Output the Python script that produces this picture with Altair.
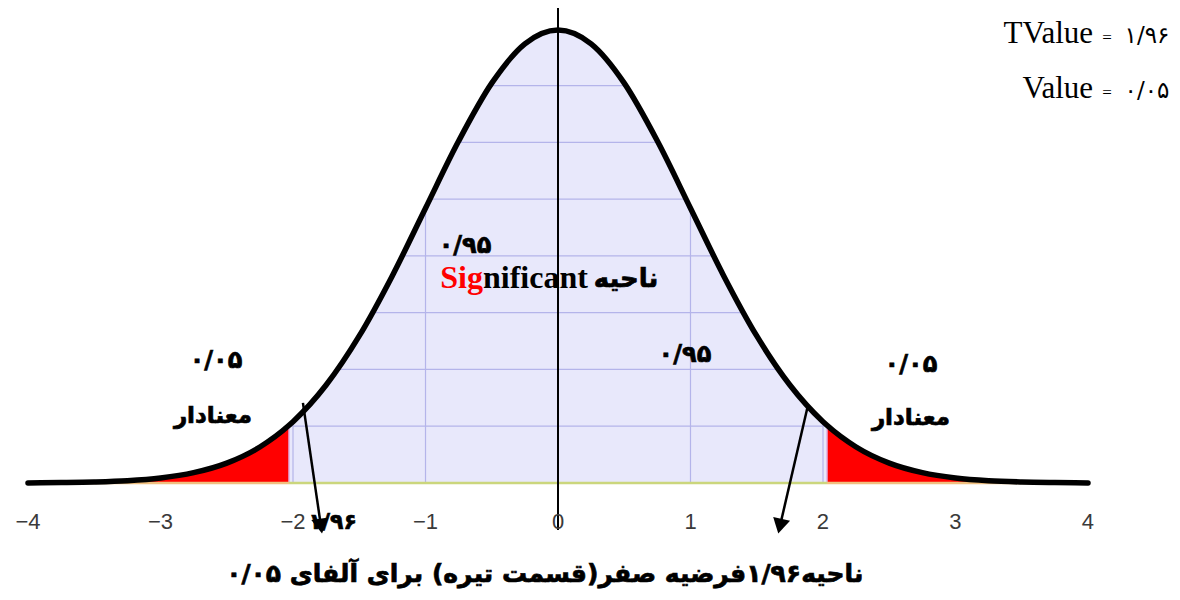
import altair as alt
import pandas as pd

# ---- data ----
curve_x = [-4, -3.75, -3.5, -3.25, -3, -2.75, -2.5, -2.25, -2.03, -2, -1.75, -1.5, -1.25, -1,
           -0.75, -0.5, -0.25, 0, 0.25, 0.5, 0.75, 1, 1.25, 1.5, 1.75, 2, 2.03, 2.25, 2.5,
           2.75, 3, 3.25, 3.5, 3.75, 4]
curve_y = [0.0001, 0.0004, 0.0009, 0.0020, 0.0044, 0.0091, 0.0175, 0.0317, 0.0508, 0.0540,
           0.0863, 0.1295, 0.1826, 0.2420, 0.3011, 0.3521, 0.3867, 0.3989, 0.3867, 0.3521,
           0.3011, 0.2420, 0.1826, 0.1295, 0.0863, 0.0540, 0.0508, 0.0317, 0.0175, 0.0091,
           0.0044, 0.0020, 0.0009, 0.0004, 0.0001]
crit = 2.03

tick_values = [-4, -3, -2, -1, 0, 1, 2, 3, 4]
tick_labels = ["−4", "−3", "−2", "−1", "0", "1", "2", "3", "4"]
tick_y = -0.0343

hgrid_y = [0.05, 0.10, 0.15, 0.20, 0.25, 0.30, 0.35]
hgrid_half = [2.03, 1.66, 1.40, 1.175, 0.967, 0.755, 0.511]
vgrid_x = [-2, -1, 1, 2]
vgrid_top = [0.054, 0.242, 0.242, 0.054]

arrow_x1 = [-1.925, 1.887]
arrow_y1 = [0.0705, 0.0687]
arrow_x2 = [-1.789, 1.675]
arrow_y2 = [-0.0380, -0.0380]
arrow_angle = [352, 13]

persian_labels = ["۰/۰۵", "معنادار", "۰/۰۵", "معنادار", "۰/۹۵", "۰/۹۵", "ناحیه", "۱/۹۶",
                  "ناحیه۱/۹۶فرضیه صفر(قسمت تیره) برای آلفای ۰/۰۵"]
persian_x = [-2.581, -2.604, 2.664, 2.664, -0.702, 0.958, 0.513, -1.70, -0.10]
persian_y = [0.1074, 0.0590, 0.1039, 0.0572, 0.2087, 0.1127, 0.1797, -0.0343, -0.0800]
persian_size = [24, 23, 24, 23, 24, 24, 26, 22, 25]

corner_left = ["TValue", "Value"]
corner_right = ["۱/۹۶", "۰/۰۵"]
corner_y = [0.3875, 0.3391]

# ---- scales ----
W, H = 1164, 475
xs = alt.Scale(domain=[-4.151, 4.634], nice=False, zero=False)
ys = alt.Scale(domain=[0, 0.4183], nice=False, zero=False)

curve = pd.DataFrame({"x": curve_x, "y": curve_y})
mid = curve[(curve.x >= -crit) & (curve.x <= crit)]
left = curve[curve.x <= -crit]
right = curve[curve.x >= crit]


def X(f="x"):
    return alt.X(f"{f}:Q", scale=xs, axis=None)


def Y(f="y"):
    return alt.Y(f"{f}:Q", scale=ys, axis=None)


area_mid = alt.Chart(mid).mark_area(color="#e8e8fb", interpolate="monotone").encode(x=X(), y=Y())
area_l = alt.Chart(left).mark_area(color="#ff0000", interpolate="monotone").encode(x=X(), y=Y())
area_r = alt.Chart(right).mark_area(color="#ff0000", interpolate="monotone").encode(x=X(), y=Y())

hg = pd.DataFrame({"y": hgrid_y, "h": hgrid_half})
hg["x1"] = -hg["h"]
hgrid = alt.Chart(hg).mark_rule(color="#b4b4ea", strokeWidth=1.2).encode(
    x=X("x1"), x2="h:Q", y=Y())

vg = pd.DataFrame({"x": vgrid_x, "top": vgrid_top, "b": [0] * len(vgrid_x)})
vgrid = alt.Chart(vg).mark_rule(color="#b4b4ea", strokeWidth=1.2).encode(
    x=X(), y=Y("b"), y2="top:Q")

bounds = pd.DataFrame({"x": [-crit, crit], "b": [0, 0], "top": [0.0508, 0.0508]})
bnd = alt.Chart(bounds).mark_rule(color="#e0b4e4", strokeWidth=1.5).encode(
    x=X(), y=Y("b"), y2="top:Q")

base = pd.DataFrame({"x1": [-crit, -4, crit], "x2": [crit, -crit, 4], "y": [0, 0, 0],
                     "c": ["#cbd67c", "#f0c080", "#f0c080"]})
baseline = alt.Chart(base).mark_rule(strokeWidth=2.5).encode(
    x=X("x1"), x2="x2:Q", y=Y(), color=alt.Color("c:N", scale=None))

zl = pd.DataFrame({"x": [0], "b": [-0.0414], "top": [0.421]})
zero_line = alt.Chart(zl).mark_rule(color="black", strokeWidth=2).encode(
    x=X(), y=Y("b"), y2="top:Q")

tk = pd.DataFrame({"x": tick_values, "t": tick_labels, "y": [tick_y] * len(tick_values)})
ticks = alt.Chart(tk).mark_text(font="Liberation Sans", fontSize=22, color="#3a3a3a",
                                align="center", baseline="middle").encode(
    x=X(), y=Y(), text="t:N")

curve_line = alt.Chart(curve).mark_line(color="black", strokeWidth=5.5, interpolate="monotone",
                                        strokeCap="round").encode(x=X(), y=Y())

ar = pd.DataFrame({"x1": arrow_x1, "y1": arrow_y1, "x2": arrow_x2, "y2": arrow_y2,
                   "a": arrow_angle})
arrow_lines = alt.Chart(ar).mark_rule(color="black", strokeWidth=2.5).encode(
    x=X("x1"), y=Y("y1"), x2="x2:Q", y2="y2:Q")
arrow_heads = alt.Chart(ar).mark_point(shape="triangle-down", filled=True, color="black",
                                       size=300, opacity=1).encode(
    x=X("x2"), y=Y("y2"), angle=alt.Angle("a:Q", scale=None))

pl = pd.DataFrame({"t": persian_labels, "x": persian_x, "y": persian_y, "s": persian_size})
persian = alt.Chart(pl).mark_text(font="DejaVu Sans", fontWeight="bold", baseline="middle",
                                  align="center", color="black", stroke="black",
                                  strokeWidth=0.7).encode(
    x=X(), y=Y(), text="t:N", size=alt.Size("s:Q", scale=None))

sig_df = pd.DataFrame({"x": [-0.566], "y": [0.1717], "a": ["Sig"], "b": ["nificant"]})
sig_red = alt.Chart(sig_df).mark_text(font="Liberation Serif", fontWeight="bold", fontSize=32,
                                      align="right", baseline="alphabetic", color="#ff0000").encode(
    x=X(), y=Y(), text="a:N")
sig_black = alt.Chart(sig_df).mark_text(font="Liberation Serif", fontWeight="bold", fontSize=32,
                                        align="left", baseline="alphabetic", color="black").encode(
    x=X(), y=Y(), text="b:N")

cn = pd.DataFrame({"l": corner_left, "r": corner_right, "y": corner_y,
                   "xl": [4.038, 4.038], "xe": [4.143, 4.143], "xr": [4.445, 4.445],
                   "eq": ["=", "="]})
corner_l = alt.Chart(cn).mark_text(font="Liberation Serif", fontSize=31, align="right",
                                   baseline="alphabetic", color="black").encode(
    x=X("xl"), y=Y(), text="l:N")
corner_e = alt.Chart(cn).mark_text(font="Liberation Serif", fontSize=17, align="center",
                                   baseline="alphabetic", color="black").encode(
    x=X("xe"), y=Y(), text="eq:N")
corner_r = alt.Chart(cn).mark_text(font="DejaVu Sans", fontSize=23, align="center",
                                   baseline="alphabetic", color="black").encode(
    x=X("xr"), y=Y(), text="r:N")

chart = alt.layer(
    area_mid, area_l, area_r, hgrid, vgrid, bnd, baseline, zero_line, curve_line, ticks,
    arrow_lines, arrow_heads, persian, sig_red, sig_black, corner_l, corner_e, corner_r
).properties(
    width=W, height=H,
    autosize=alt.AutoSizeParams(type="none"),
    padding={"left": 0, "top": 0, "right": 0, "bottom": 109},
    background="white",
).configure_view(stroke=None)

chart.save("out.html", embed_options={"renderer": "svg", "actions": False})
